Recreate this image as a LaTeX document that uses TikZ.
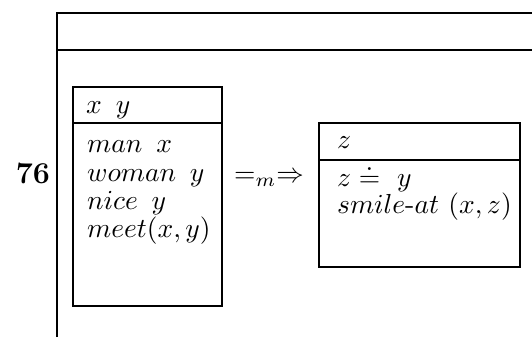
\documentclass[tikz,border=0pt]{standalone}
\usepackage{amsmath,amssymb}
\begin{document}
\begin{tikzpicture}[x=0.3636pt,y=-0.3636pt,line width=0.85pt,
  txt/.style={anchor=base west,inner sep=0pt,font=\fontsize{10.2}{12}\selectfont},
  rule/.style={line width=0.85pt}]
\useasboundingbox (0,0) rectangle (532,337);
% outer frame
\coordinate (fbot) at (57,337);
\coordinate (ftl) at (57,13);
\coordinate (ftr) at (532,13);
\coordinate (fml) at (57,50);
\coordinate (fmr) at (532,50);
\draw[rule] (fbot) -- (ftl) -- (ftr);
\draw[rule] (fml) -- (fmr);
% left box
\coordinate (la) at (73,87);
\coordinate (lb) at (222,306);
\coordinate (lh1) at (73,123);
\coordinate (lh2) at (222,123);
\draw[rule] (la) rectangle (lb);
\draw[rule] (lh1) -- (lh2);
% right box
\coordinate (ra) at (319,123);
\coordinate (rb) at (520,267);
\coordinate (rh1) at (319,160);
\coordinate (rh2) at (520,160);
\draw[rule] (ra) rectangle (rb);
\draw[rule] (rh1) -- (rh2);
% texts
\node[anchor=base east,inner sep=0pt,font=\fontsize{11}{13}\selectfont] (num) at (51,183) {\textbf{76}};
\node[txt] (lhead) at (85,113) {$x\ \,y$};
\node[txt] (c1) at (86,152) {$man\ \,x$};
\node[txt] (c2) at (86,181) {$woman\ \,y$};
\node[txt] (c3) at (86,209) {$nice\ \,y$};
\node[txt] (c4) at (86,237) {$meet(x,y)$};
\node[txt] (arr) at (233,182) {$=_m\Rightarrow$};
\node[txt] (rhead) at (336,148) {$z$};
\node[txt] (d1) at (336,186) {$z \doteq\ y$};
\node[txt] (d2) at (336,213) {$smile\mbox{-}at\ (x,z)$};
\end{tikzpicture}
\end{document}
